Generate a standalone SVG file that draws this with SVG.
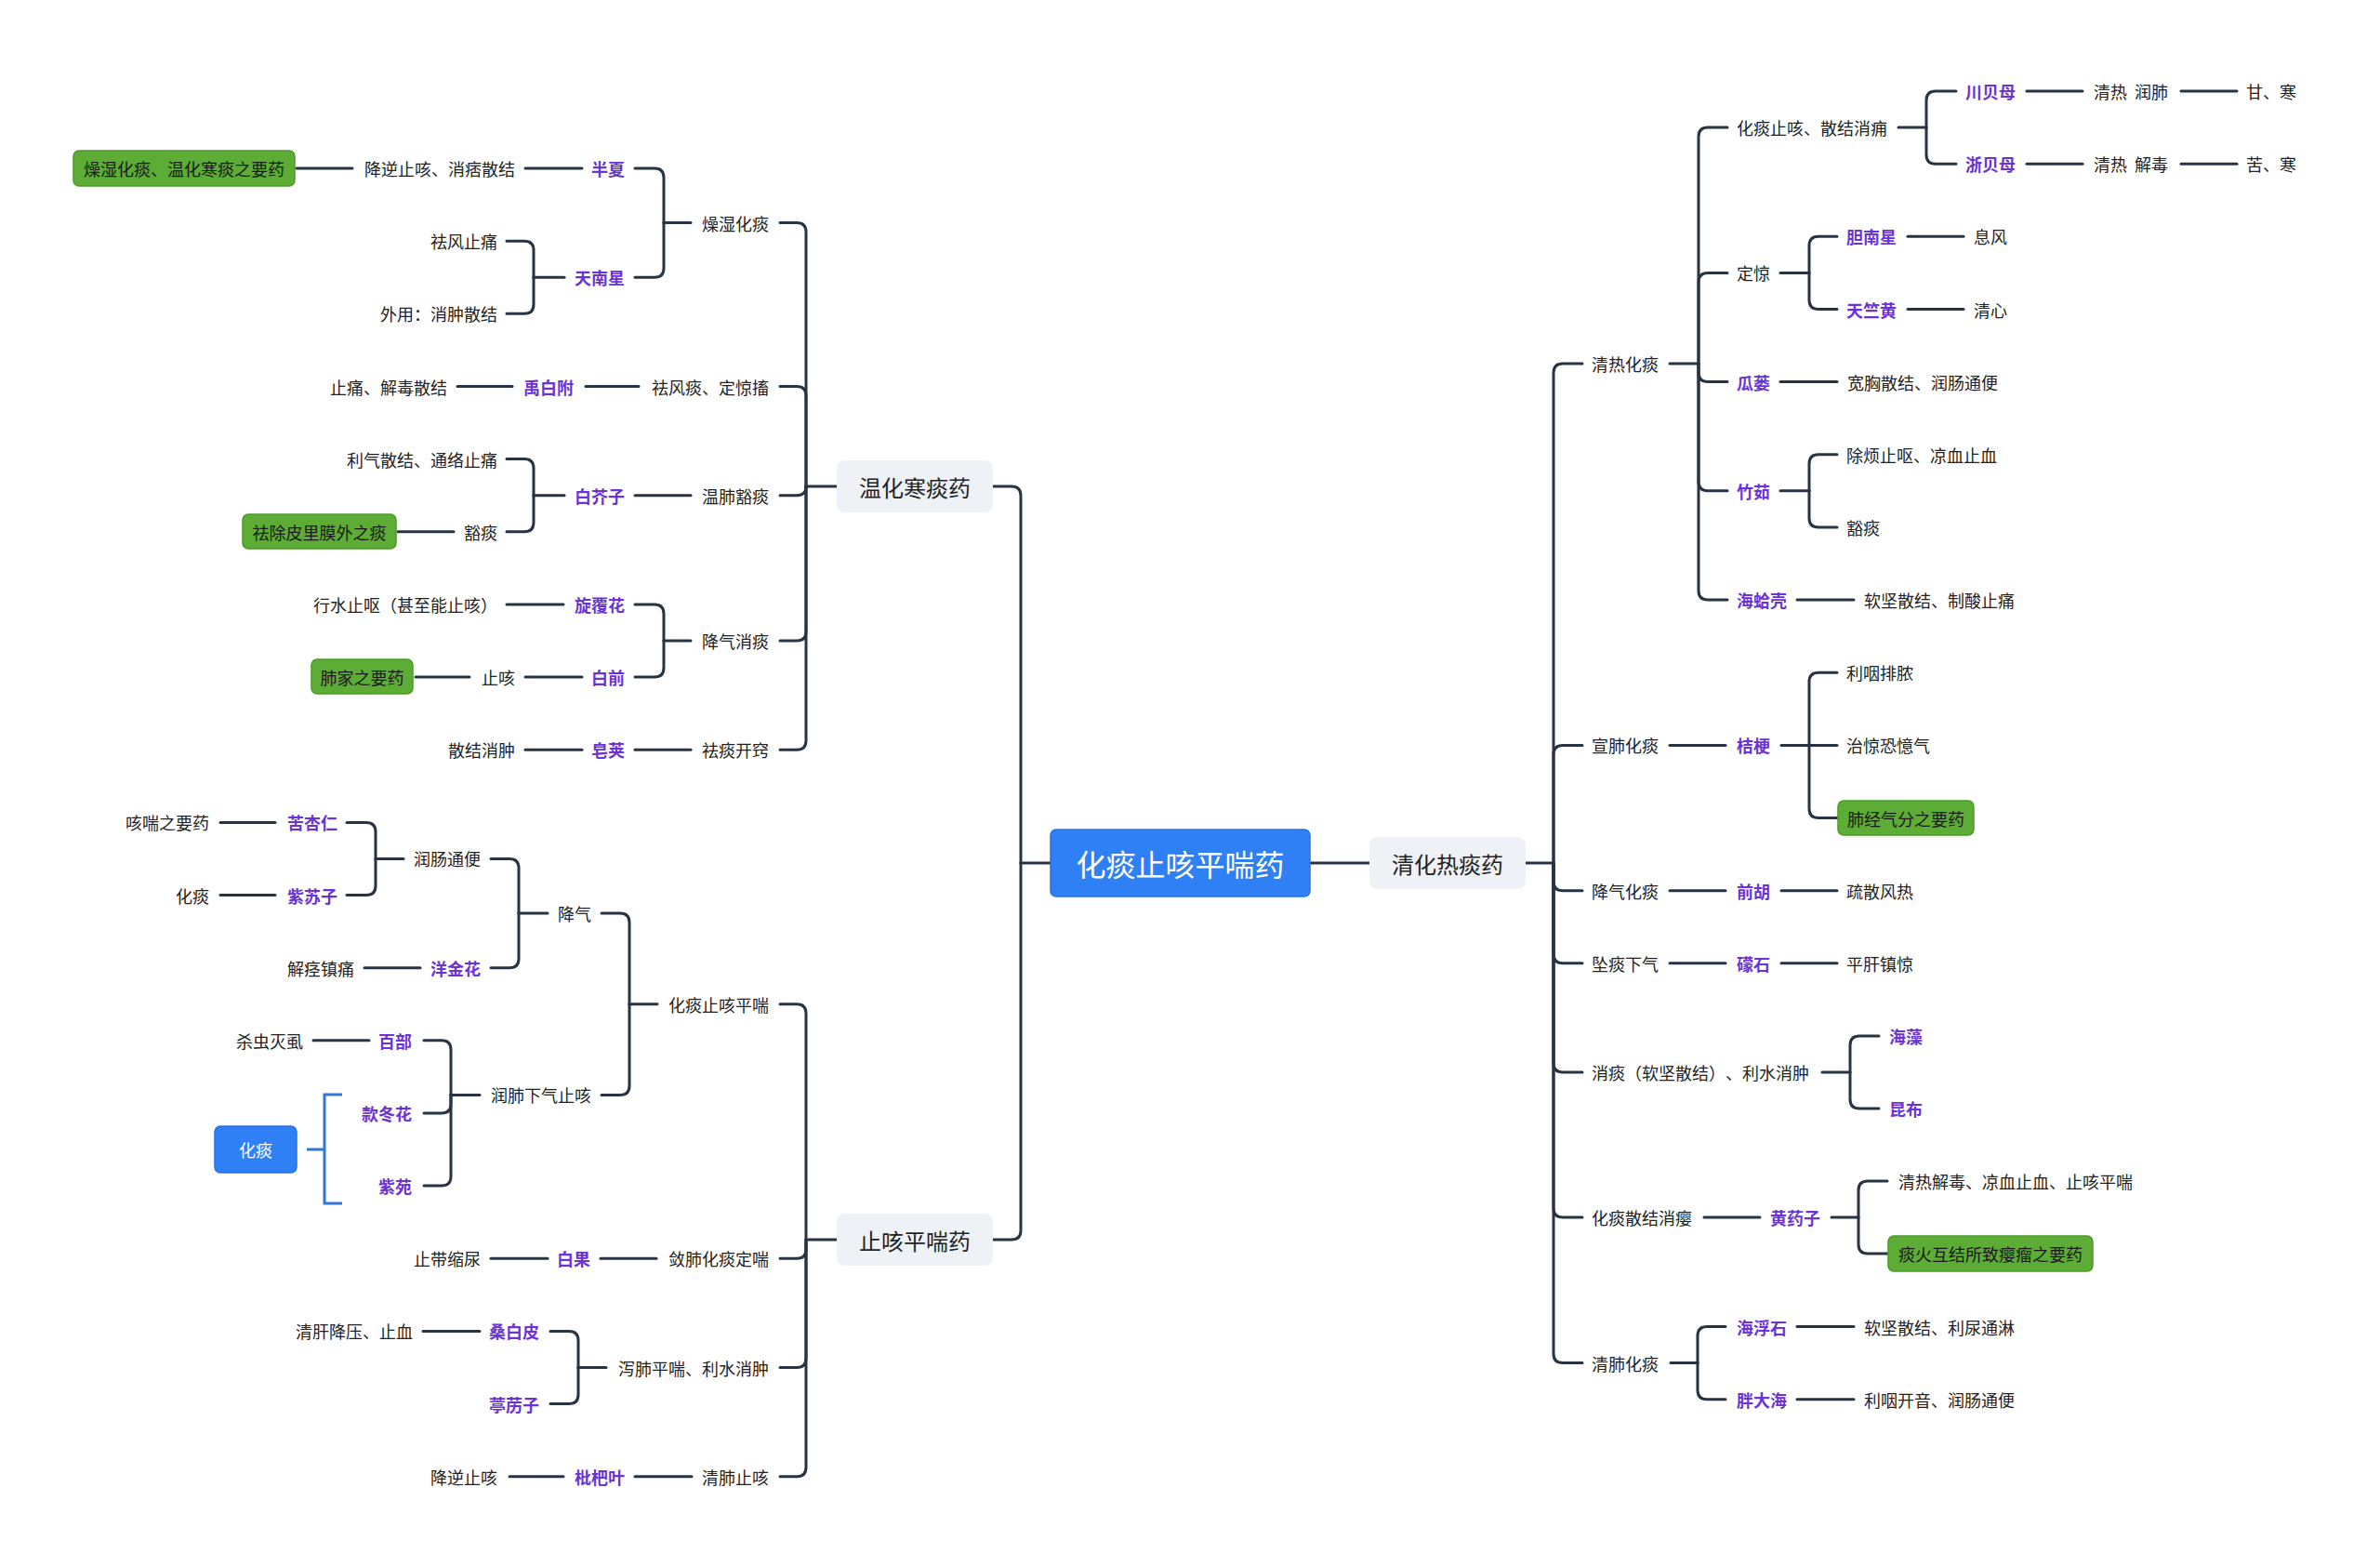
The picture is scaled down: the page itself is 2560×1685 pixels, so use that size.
<svg xmlns="http://www.w3.org/2000/svg" width="2560" height="1685" viewBox="0 0 2560 1685">
<style>
text{font-family:"Noto Sans CJK SC","Noto Sans",sans-serif;dominant-baseline:central;text-spacing-trim:space-all;}
.t{font-size:18px;fill:#222;}
.p{font-size:18px;fill:#6a32d8;font-weight:700;}
.l{text-anchor:end;}
.m{text-anchor:middle;}
.c path{fill:none;stroke:#283444;stroke-width:3;stroke-linecap:round;}
.g{fill:#5cac35;stroke:#4c9a2a;stroke-width:1.5;}
.gt{font-size:18px;fill:#1a1a1a;text-anchor:middle;}
.b{fill:#eef1f5;}
.bt{font-size:24px;fill:#222;text-anchor:middle;}
.blue{fill:#2f7ff5;stroke:#2a72e0;stroke-width:1.5;}
.wt{fill:#fff;text-anchor:middle;}
</style>
<rect width="2560" height="1685" fill="#fff"/>
<g id="connectors" class="c">
<path d="M1409,928 H1473"/>
<path d="M1641,928 H1671"/>
<path d="M1130,928 H1098"/>
<path d="M1098,928 V533 Q1098,523 1088,523 H1068"/>
<path d="M1098,928 V1323 Q1098,1333 1088,1333 H1068"/>
<path d="M1671,928 V401 Q1671,391 1681,391 H1702"/>
<path d="M1671,928 V811.4 Q1671,801.4 1681,801.4 H1702"/>
<path d="M1671,928 V947.7 Q1671,957.7 1681,957.7 H1702"/>
<path d="M1671,928 V1025.8 Q1671,1035.8 1681,1035.8 H1702"/>
<path d="M1671,928 V1143 Q1671,1153 1681,1153 H1702"/>
<path d="M1671,928 V1299 Q1671,1309 1681,1309 H1702"/>
<path d="M1671,928 V1455.6 Q1671,1465.6 1681,1465.6 H1702"/>
<path d="M1796,391 H1827"/>
<path d="M1827,391 V147 Q1827,137 1837,137 H1858"/>
<path d="M1827,391 V303.4 Q1827,293.4 1837,293.4 H1858"/>
<path d="M1827,391 V400.6 Q1827,410.6 1837,410.6 H1858"/>
<path d="M1827,391 V517.8 Q1827,527.8 1837,527.8 H1858"/>
<path d="M1827,391 V635 Q1827,645 1837,645 H1858"/>
<path d="M2042,137 H2072"/>
<path d="M2072,137 V108 Q2072,98 2082,98 H2104"/>
<path d="M2072,137 V166.2 Q2072,176.2 2082,176.2 H2104"/>
<path d="M2180,98 H2240"/>
<path d="M2346,98 H2406"/>
<path d="M2180,176.2 H2240"/>
<path d="M2346,176.2 H2406"/>
<path d="M1915,293.4 H1946"/>
<path d="M1946,293.4 V264.3 Q1946,254.3 1956,254.3 H1976"/>
<path d="M1946,293.4 V322.5 Q1946,332.5 1956,332.5 H1976"/>
<path d="M2052,254.3 H2112"/>
<path d="M2052,332.5 H2112"/>
<path d="M1915,410.6 H1976"/>
<path d="M1915,527.8 H1946"/>
<path d="M1946,527.8 V498.8 Q1946,488.8 1956,488.8 H1976"/>
<path d="M1946,527.8 V557 Q1946,567 1956,567 H1976"/>
<path d="M1933,645 H1994"/>
<path d="M1796,801.4 H1856"/>
<path d="M1916,801.4 H1946"/>
<path d="M1946,801.4 V733.2 Q1946,723.2 1956,723.2 H1976"/>
<path d="M1946,801.4 H1976"/>
<path d="M1946,801.4 V869.5 Q1946,879.5 1956,879.5 H1977"/>
<path d="M1796,957.7 H1856"/>
<path d="M1916,957.7 H1976"/>
<path d="M1796,1035.8 H1856"/>
<path d="M1916,1035.8 H1976"/>
<path d="M1960,1153 H1990"/>
<path d="M1990,1153 V1124 Q1990,1114 2000,1114 H2021"/>
<path d="M1990,1153 V1182 Q1990,1192 2000,1192 H2021"/>
<path d="M1833,1309 H1893"/>
<path d="M1970,1309 H1999"/>
<path d="M1999,1309 V1280 Q1999,1270 2009,1270 H2030"/>
<path d="M1999,1309 V1338 Q1999,1348 2009,1348 H2031"/>
<path d="M1797,1465.6 H1826"/>
<path d="M1826,1465.6 V1436.6 Q1826,1426.6 1836,1426.6 H1856"/>
<path d="M1826,1465.6 V1494.7 Q1826,1504.7 1836,1504.7 H1856"/>
<path d="M1933,1426.6 H1994"/>
<path d="M1933,1504.7 H1994"/>
<path d="M900,523 H867"/>
<path d="M867,523 V249.6 Q867,239.6 857,239.6 H839"/>
<path d="M867,523 V425.5 Q867,415.5 857,415.5 H839"/>
<path d="M867,523 Q867,532.7 857,532.7 H839"/>
<path d="M867,523 V679 Q867,689 857,689 H839"/>
<path d="M867,523 V796.2 Q867,806.2 857,806.2 H839"/>
<path d="M743,239.6 H714"/>
<path d="M714,239.6 V191 Q714,181 704,181 H683"/>
<path d="M714,239.6 V288.2 Q714,298.2 704,298.2 H683"/>
<path d="M626,181 H565"/>
<path d="M379,181 H319"/>
<path d="M607,298.2 H574"/>
<path d="M574,298.2 V269.2 Q574,259.2 564,259.2 H545"/>
<path d="M574,298.2 V327.3 Q574,337.3 564,337.3 H545"/>
<path d="M687,415.5 H630"/>
<path d="M551,415.5 H492"/>
<path d="M743,532.7 H683"/>
<path d="M607,532.7 H574"/>
<path d="M574,532.7 V503.6 Q574,493.6 564,493.6 H545"/>
<path d="M574,532.7 V561.8 Q574,571.8 564,571.8 H545"/>
<path d="M488,571.8 H428"/>
<path d="M743,689 H714"/>
<path d="M714,689 V659.9 Q714,649.9 704,649.9 H683"/>
<path d="M714,689 V718 Q714,728 704,728 H683"/>
<path d="M606,649.9 H545"/>
<path d="M626,728 H565"/>
<path d="M505,728 H447"/>
<path d="M743,806.2 H683"/>
<path d="M626,806.2 H565"/>
<path d="M900,1333 H867"/>
<path d="M867,1333 V1089.7 Q867,1079.7 857,1079.7 H839"/>
<path d="M867,1333 V1343.3 Q867,1353.3 857,1353.3 H839"/>
<path d="M867,1333 V1460.5 Q867,1470.5 857,1470.5 H839"/>
<path d="M867,1333 V1577.7 Q867,1587.7 857,1587.7 H839"/>
<path d="M707,1079.7 H677"/>
<path d="M677,1079.7 V992 Q677,982 667,982 H647"/>
<path d="M677,1079.7 V1167.4 Q677,1177.4 667,1177.4 H647"/>
<path d="M589,982 H558"/>
<path d="M558,982 V933.4 Q558,923.4 548,923.4 H528"/>
<path d="M558,982 V1030.7 Q558,1040.7 548,1040.7 H528"/>
<path d="M434,923.4 H404"/>
<path d="M404,923.4 V894.4 Q404,884.4 394,884.4 H373"/>
<path d="M404,923.4 V952.5 Q404,962.5 394,962.5 H373"/>
<path d="M296,884.4 H237"/>
<path d="M296,962.5 H237"/>
<path d="M452,1040.7 H392"/>
<path d="M516,1177.4 H485"/>
<path d="M485,1177.4 V1128.8 Q485,1118.8 475,1118.8 H456"/>
<path d="M485,1177.4 V1187 Q485,1197 475,1197 H456"/>
<path d="M485,1177.4 V1265 Q485,1275 475,1275 H456"/>
<path d="M397,1118.8 H337"/>
<path d="M706,1353.3 H646"/>
<path d="M589,1353.3 H528"/>
<path d="M652,1470.5 H622"/>
<path d="M622,1470.5 V1441.4 Q622,1431.4 612,1431.4 H592"/>
<path d="M622,1470.5 V1499.6 Q622,1509.6 612,1509.6 H592"/>
<path d="M516,1431.4 H455"/>
<path d="M744,1587.7 H683"/>
<path d="M606,1587.7 H548"/>
<path d="M368,1177 H349 V1294 H368 M349,1236 H330" style="stroke:#2f78d8;stroke-linecap:butt;"/>
</g>

<g id="root"><rect class="blue" x="1130" y="892" width="279" height="72" rx="6"/><text class="wt" x="1269.5" y="928" style="font-size:32px">化痰止咳平喘药</text></g>

<g id="n-qhrty"><rect class="b" x="1473" y="900" width="168" height="56" rx="8"/><text class="bt" x="1557" y="928">清化热痰药</text></g>
<g id="n-whhty"><rect class="b" x="900" y="495" width="168" height="56" rx="8"/><text class="bt" x="984" y="523">温化寒痰药</text></g>
<g id="n-zkpcy"><rect class="b" x="900" y="1305" width="168" height="56" rx="8"/><text class="bt" x="984" y="1333">止咳平喘药</text></g>

<!-- right side -->
<g id="r-qrht"><text class="t" x="1712" y="391">清热化痰</text></g>
<g id="r-htzk"><text class="t" x="1868" y="137">化痰止咳、散结消痈</text></g>
<g id="r-cbm"><text class="p" x="2114" y="98">川贝母</text></g>
<g id="r-cbm-1"><text class="t" x="2252" y="98" xml:space="preserve">清热  润肺</text></g>
<g id="r-cbm-2"><text class="t" x="2416" y="98">甘、寒</text></g>
<g id="r-zbm"><text class="p" x="2114" y="176.2">浙贝母</text></g>
<g id="r-zbm-1"><text class="t" x="2252" y="176.2" xml:space="preserve">清热  解毒</text></g>
<g id="r-zbm-2"><text class="t" x="2416" y="176.2">苦、寒</text></g>
<g id="r-dj"><text class="t" x="1868" y="293.4">定惊</text></g>
<g id="r-dnx"><text class="p" x="1986" y="254.3">胆南星</text></g>
<g id="r-dnx-1"><text class="t" x="2123" y="254.3">息风</text></g>
<g id="r-tzh"><text class="p" x="1986" y="332.5">天竺黄</text></g>
<g id="r-tzh-1"><text class="t" x="2123" y="332.5">清心</text></g>
<g id="r-gl"><text class="p" x="1868" y="410.6">瓜蒌</text></g>
<g id="r-gl-1"><text class="t" x="1987" y="410.6">宽胸散结、润肠通便</text></g>
<g id="r-zr"><text class="p" x="1868" y="527.8">竹茹</text></g>
<g id="r-zr-1"><text class="t" x="1986" y="488.8">除烦止呕、凉血止血</text></g>
<g id="r-zr-2"><text class="t" x="1986" y="567">豁痰</text></g>
<g id="r-hgk"><text class="p" x="1868" y="645">海蛤壳</text></g>
<g id="r-hgk-1"><text class="t" x="2005" y="645">软坚散结、制酸止痛</text></g>
<g id="r-xfht"><text class="t" x="1712" y="801.4">宣肺化痰</text></g>
<g id="r-jg"><text class="p" x="1868" y="801.4">桔梗</text></g>
<g id="r-jg-1"><text class="t" x="1986" y="723.2">利咽排脓</text></g>
<g id="r-jg-2"><text class="t" x="1986" y="801.4">治惊恐憶气</text></g>
<g id="r-jg-3"><rect class="g" x="1977" y="861" width="146" height="37" rx="6"/><text class="gt" x="2050" y="879.5">肺经气分之要药</text></g>
<g id="r-jqht"><text class="t" x="1712" y="957.7">降气化痰</text></g>
<g id="r-qh"><text class="p" x="1868" y="957.7">前胡</text></g>
<g id="r-qh-1"><text class="t" x="1986" y="957.7">疏散风热</text></g>
<g id="r-ztxq"><text class="t" x="1712" y="1035.8">坠痰下气</text></g>
<g id="r-ms"><text class="p" x="1868" y="1035.8">礞石</text></g>
<g id="r-ms-1"><text class="t" x="1986" y="1035.8">平肝镇惊</text></g>
<g id="r-xt"><text class="t" x="1712" y="1153">消痰（软坚散结）、利水消肿</text></g>
<g id="r-hz"><text class="p" x="2032" y="1114">海藻</text></g>
<g id="r-kb"><text class="p" x="2032" y="1192">昆布</text></g>
<g id="r-htsj"><text class="t" x="1712" y="1309">化痰散结消瘿</text></g>
<g id="r-hyz"><text class="p" x="1904" y="1309">黄药子</text></g>
<g id="r-hyz-1"><text class="t" x="2042" y="1270">清热解毒、凉血止血、止咳平喘</text></g>
<g id="r-hyz-2"><rect class="g" x="2031" y="1329" width="220" height="38" rx="6"/><text class="gt" x="2141" y="1348">痰火互结所致瘿瘤之要药</text></g>
<g id="r-qfht"><text class="t" x="1712" y="1465.6">清肺化痰</text></g>
<g id="r-hfs"><text class="p" x="1868" y="1426.6">海浮石</text></g>
<g id="r-hfs-1"><text class="t" x="2005" y="1426.6">软坚散结、利尿通淋</text></g>
<g id="r-pdh"><text class="p" x="1868" y="1504.7">胖大海</text></g>
<g id="r-pdh-1"><text class="t" x="2005" y="1504.7">利咽开音、润肠通便</text></g>

<!-- left side, upper -->
<g id="l-zsht"><text class="t l" x="827" y="239.6">燥湿化痰</text></g>
<g id="l-bx"><text class="p l" x="672" y="181">半夏</text></g>
<g id="l-bx-1"><text class="t l" x="554" y="181">降逆止咳、消痞散结</text></g>
<g id="l-bx-2"><rect class="g" x="79" y="162" width="238" height="38" rx="6"/><text class="gt" x="198" y="181">燥湿化痰、温化寒痰之要药</text></g>
<g id="l-tnx"><text class="p l" x="672" y="298.2">天南星</text></g>
<g id="l-tnx-1"><text class="t l" x="535" y="259.2">祛风止痛</text></g>
<g id="l-tnx-2"><text class="t l" x="535" y="337.3">外用：消肿散结</text></g>
<g id="l-qft"><text class="t l" x="827" y="415.5">祛风痰、定惊搐</text></g>
<g id="l-ybf"><text class="p l" x="617" y="415.5">禹白附</text></g>
<g id="l-ybf-1"><text class="t l" x="481" y="415.5">止痛、解毒散结</text></g>
<g id="l-wfht"><text class="t l" x="827" y="532.7">温肺豁痰</text></g>
<g id="l-bjz"><text class="p l" x="672" y="532.7">白芥子</text></g>
<g id="l-bjz-1"><text class="t l" x="535" y="493.6">利气散结、通络止痛</text></g>
<g id="l-bjz-2"><text class="t l" x="535" y="571.8">豁痰</text></g>
<g id="l-bjz-3"><rect class="g" x="261" y="553" width="165" height="37" rx="6"/><text class="gt" x="343.5" y="571.8">祛除皮里膜外之痰</text></g>
<g id="l-jqxt"><text class="t l" x="827" y="689">降气消痰</text></g>
<g id="l-xfh"><text class="p l" x="672" y="649.9">旋覆花</text></g>
<g id="l-xfh-1"><text class="t l" x="535" y="649.9">行水止呕（甚至能止咳）</text></g>
<g id="l-bq"><text class="p l" x="672" y="728">白前</text></g>
<g id="l-bq-1"><text class="t l" x="554" y="728">止咳</text></g>
<g id="l-bq-2"><rect class="g" x="335" y="709" width="109" height="37" rx="6"/><text class="gt" x="389.5" y="728">肺家之要药</text></g>
<g id="l-qtkq"><text class="t l" x="827" y="806.2">祛痰开窍</text></g>
<g id="l-zj"><text class="p l" x="672" y="806.2">皂荚</text></g>
<g id="l-zj-1"><text class="t l" x="554" y="806.2">散结消肿</text></g>

<!-- left side, lower -->
<g id="l-htzkpc"><text class="t l" x="827" y="1079.7">化痰止咳平喘</text></g>
<g id="l-jq"><text class="t l" x="636" y="982">降气</text></g>
<g id="l-rctb"><text class="t l" x="517" y="923.4">润肠通便</text></g>
<g id="l-kxr"><text class="p l" x="363" y="884.4">苦杏仁</text></g>
<g id="l-kxr-1"><text class="t l" x="225" y="884.4">咳喘之要药</text></g>
<g id="l-zsz"><text class="p l" x="363" y="962.5">紫苏子</text></g>
<g id="l-zsz-1"><text class="t l" x="225" y="962.5">化痰</text></g>
<g id="l-yjh"><text class="p l" x="517" y="1040.7">洋金花</text></g>
<g id="l-yjh-1"><text class="t l" x="381" y="1040.7">解痉镇痛</text></g>
<g id="l-rfxq"><text class="t l" x="636" y="1177.4">润肺下气止咳</text></g>
<g id="l-bb"><text class="p l" x="443" y="1118.8">百部</text></g>
<g id="l-bb-1"><text class="t l" x="326" y="1118.8">杀虫灭虱</text></g>
<g id="l-kdh"><text class="p l" x="443" y="1197">款冬花</text></g>
<g id="l-zy"><text class="p l" x="443" y="1275">紫苑</text></g>
<g id="l-ht-summary"><rect class="blue" x="231" y="1211" width="88" height="50" rx="6"/><text class="wt" x="275" y="1236" style="font-size:18px">化痰</text></g>
<g id="l-lfht"><text class="t l" x="827" y="1353.3">敛肺化痰定喘</text></g>
<g id="l-bg"><text class="p l" x="635" y="1353.3">白果</text></g>
<g id="l-bg-1"><text class="t l" x="517" y="1353.3">止带缩尿</text></g>
<g id="l-xfpc"><text class="t l" x="827" y="1470.5">泻肺平喘、利水消肿</text></g>
<g id="l-sbp"><text class="p l" x="580" y="1431.4">桑白皮</text></g>
<g id="l-sbp-1"><text class="t l" x="444" y="1431.4">清肝降压、止血</text></g>
<g id="l-tlz"><text class="p l" x="580" y="1509.6">葶苈子</text></g>
<g id="l-qfzk"><text class="t l" x="827" y="1587.7">清肺止咳</text></g>
<g id="l-pby"><text class="p l" x="672" y="1587.7">枇杷叶</text></g>
<g id="l-pby-1"><text class="t l" x="535" y="1587.7">降逆止咳</text></g>
</svg>
